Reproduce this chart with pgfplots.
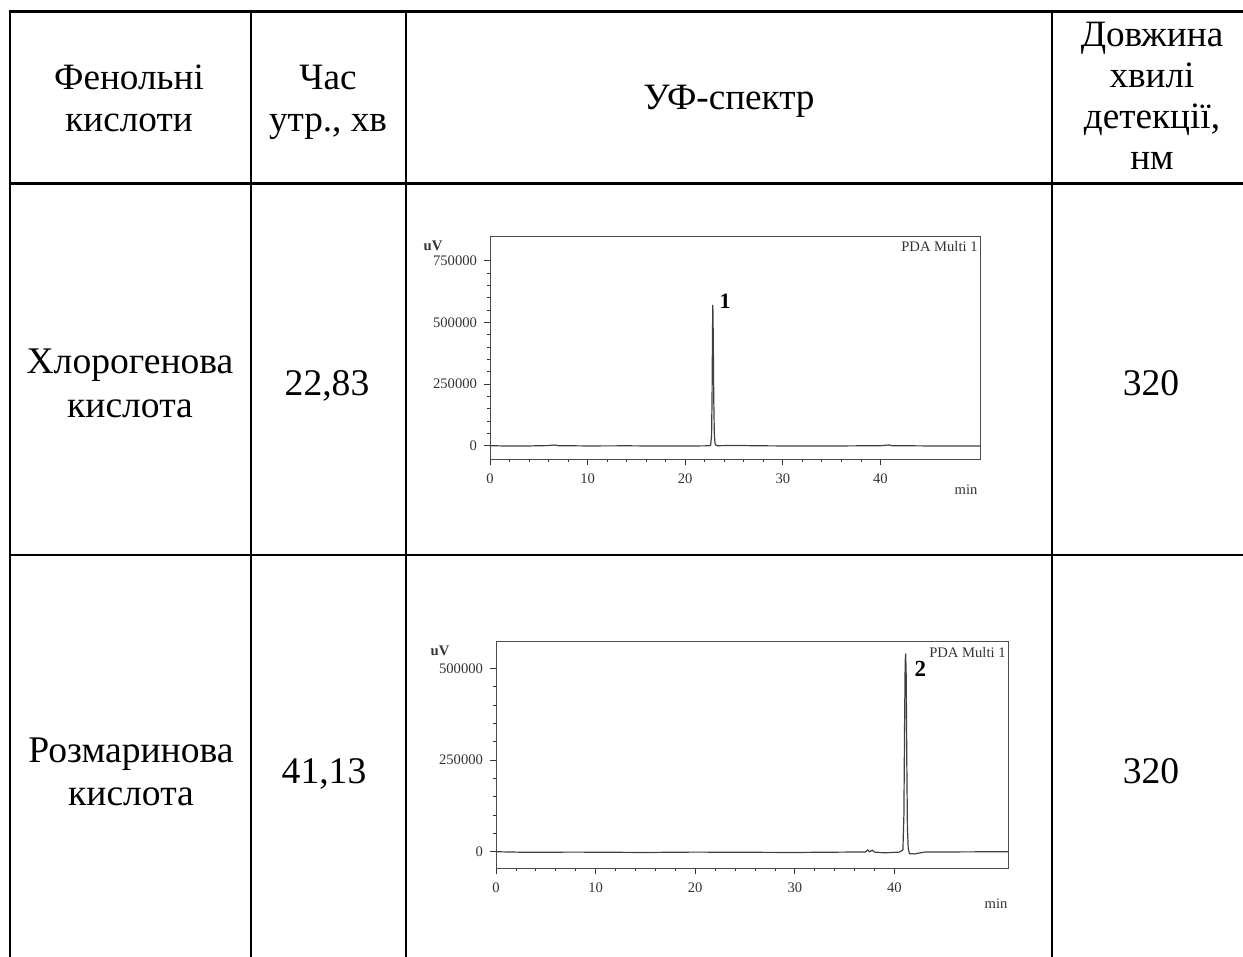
\documentclass[border=0pt]{standalone}
\usepackage{fontspec}
\setmainfont{Liberation Serif}
\usepackage{pgfplots}
\pgfplotsset{compat=1.18}
\newcommand{\hf}{\fontsize{18.6}{21}\selectfont}
\newcommand{\bodyf}{\fontsize{18.8}{22}\selectfont}
\newcommand{\tf}{\fontsize{7.3}{8.5}\selectfont}
\pgfplotstableread{
x y
0 0
2 -1500
4 -1000
6 500
6.6 3000
7 0
10 -1000
14 -500
18 -1500
21 -1000
22.4 -500
22.6 2000
22.7 40000
22.75 200000
22.8 480000
22.83 571000
22.87 450000
22.92 200000
22.98 50000
23.05 10000
23.15 2000
23.3 0
25 1000
28 -500
32 -1500
36 -1000
40 0
40.9 3000
41.2 0
45 -1000
50.2 -1000
}\chromA
\pgfplotstableread{
x y
0 0
3 -1500
8 -1000
15 -2000
20 -1000
25 -1500
30 -2000
35 -1000
37.1 -500
37.3 5000
37.5 0
37.8 4000
38.0 -1000
39 -3000
40.5 -1000
40.85 5000
40.95 100000
41.02 350000
41.08 520000
41.13 541000
41.18 480000
41.24 250000
41.3 70000
41.38 10000
41.5 -5000
42 -6000
42.6 -3000
43 -1000
46 -500
51.4 0
}\chromB
\pgfplotsset{chrom/.style={
  scale only axis, clip=false,
  scaled y ticks=false, scaled x ticks=false,
  axis line style={gray!60!black, line width=0.5pt},
  tick align=outside, xtick pos=bottom, ytick pos=left,
  major tick length=3pt, minor tick length=1.5pt,
  tick style={gray!40!black, line width=0.4pt},
  minor x tick num=4, minor y tick num=4,
  xtick={0,10,20,30,40},
  ticklabel style={font=\tf, text=black!80},
  xticklabel style={yshift=-1pt},
  /pgf/number format/assume math mode=true,
}}
\begin{document}
\begin{tikzpicture}
\useasboundingbox (0,0) rectangle (621.5pt,-478.5pt);
\begin{scope}[x=0.5pt,y=-0.5pt]
\draw[line width=1.5pt] (9,12) -- (1250,12);
\draw[line width=1.5pt] (9,184) -- (1250,184);
\draw[line width=1.2pt] (9,555) -- (1250,555);
\foreach \x in {10,251,406,1052} \draw[line width=1.3pt] (\x,11) -- (\x,960);
% header
\node[anchor=base,font=\hf,inner sep=0] at (129,90) {Фенольні};
\node[anchor=base,font=\hf,inner sep=0] at (129,132) {кислоти};
\node[anchor=base,font=\hf,inner sep=0] at (328,90) {Час};
\node[anchor=base,font=\hf,inner sep=0] at (328,132) {утр., хв};
\node[anchor=base,font=\hf,inner sep=0] at (729,110) {УФ-спектр};
\node[anchor=base,font=\hf,inner sep=0] at (1152,47) {Довжина};
\node[anchor=base,font=\hf,inner sep=0] at (1152,88) {хвилі};
\node[anchor=base,font=\hf,inner sep=0] at (1152,129) {детекції,};
\node[anchor=base,font=\hf,inner sep=0] at (1152,170) {нм};
% row 1
\node[anchor=base,font=\bodyf,inner sep=0] at (130,373) {Хлорогенова};
\node[anchor=base,font=\bodyf,inner sep=0] at (130,417) {кислота};
\node[anchor=base,font=\bodyf,inner sep=0] at (327,395) {22,83};
\node[anchor=base,font=\bodyf,inner sep=0] at (1151,395) {320};
% row 2
\node[anchor=base,font=\bodyf,inner sep=0] at (131,762) {Розмаринова};
\node[anchor=base,font=\bodyf,inner sep=0] at (131,805) {кислота};
\node[anchor=base,font=\bodyf,inner sep=0] at (324,783) {41,13};
\node[anchor=base,font=\bodyf,inner sep=0] at (1151,783) {320};
% axis unit labels
\node[font=\tf\bfseries,text=black!80] at (433,246) {uV};
\node[font=\tf\bfseries,text=black!80] at (440,651) {uV};
\node[font=\tf,text=black!80] at (966,490) {min};
\node[font=\tf,text=black!80] at (996,904) {min};
\end{scope}

\begin{axis}[chrom, at={(245pt,-229.5pt)}, anchor=south west,
  width=245pt, height=111.5pt,
  xmin=0, xmax=50.2, ymin=-54000, ymax=851000,
  ytick={0,250000,500000,750000},
  yticklabels={0,250000,500000,750000},
  xticklabels={0,10,20,30,40}]
\addplot[black!75, line width=0.6pt] table {\chromA};
\node[font=\fontsize{11}{12}\selectfont\bfseries, anchor=center] at (axis cs:24.1,585000) {1};
\node[font=\tf, anchor=north east, text=black!80, inner sep=1pt] at (rel axis cs:1,0.985) {PDA Multi 1};
\end{axis}

\begin{axis}[chrom, at={(248pt,-434pt)}, anchor=south west,
  width=256pt, height=113pt,
  xmin=0, xmax=51.4, ymin=-44400, ymax=572500,
  ytick={0,250000,500000},
  yticklabels={0,250000,500000},
  xticklabels={0,10,20,30,40}]
\addplot[black!75, line width=0.6pt] table {\chromB};
\node[font=\fontsize{11.5}{12}\selectfont\bfseries, anchor=center] at (axis cs:42.6,500000) {2};
\node[font=\tf, anchor=north east, text=black!80, inner sep=1pt] at (rel axis cs:1,0.985) {PDA Multi 1};
\end{axis}
\end{tikzpicture}
\end{document}
